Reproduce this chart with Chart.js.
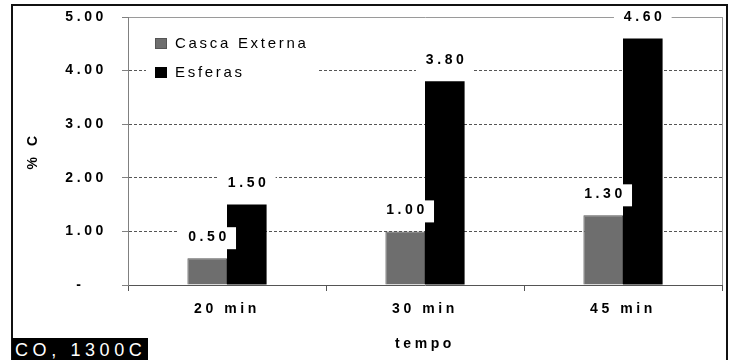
<!DOCTYPE html>
<html><head><meta charset="utf-8">
<script src="https://cdn.jsdelivr.net/npm/chart.js@4.4.1/dist/chart.umd.min.js"></script>
<style>
html,body{margin:0;padding:0;background:#fff;}
#wrap{position:relative;width:730px;height:360px;overflow:hidden;background:#fff;}
#c{position:absolute;left:0;top:0;}
#frame{position:absolute;left:11px;top:4px;width:717px;height:400px;border:2px solid #111;box-sizing:border-box;pointer-events:none;}
#note{position:absolute;left:12px;top:338px;width:136px;height:24px;background:#000;color:#fff;font:18px "Liberation Sans",Arial,sans-serif;letter-spacing:4.6px;line-height:24px;padding-left:3px;box-sizing:border-box;white-space:nowrap;overflow:hidden;}
</style></head><body>
<div id="wrap"><canvas id="c" width="730" height="360"></canvas><div id="frame"></div><div id="note">CO, 1300C</div></div>
<script>
const categories = ['20 min', '30 min', '45 min'];
const seriesNames = ['Casca Externa', 'Esferas'];
const cascaExterna = [0.50, 1.00, 1.30];
const esferas = [1.50, 3.80, 4.60];
const yTickLabels = ['-', '1.00', '2.00', '3.00', '4.00', '5.00'];
const xTitle = 'tempo';
const yTitle = '% C';

const SPACING = 3.6;
const FAMILY = '"Liberation Sans", Arial, sans-serif';

const spacingPlugin = {
  id: 'spacing',
  beforeLayout(chart) { chart.ctx.letterSpacing = SPACING + 'px'; },
  beforeDraw(chart) { chart.ctx.letterSpacing = SPACING + 'px'; }
};

const insideLegend = {
  id: 'insideLegend',
  beforeDatasetsDraw(chart) {
    const ctx = chart.ctx;
    const a = chart.chartArea;
    ctx.save();
    ctx.fillStyle = '#fff';
    ctx.fillRect(a.left + 18, a.top + 11, 172, 58);
    ctx.letterSpacing = '2.7px';
    ctx.font = '15px ' + FAMILY;
    ctx.textAlign = 'left';
    ctx.textBaseline = 'middle';
    chart.data.datasets.forEach((ds, i) => {
      const bx = a.left + 27, by = a.top + 21 + 29 * i;
      ctx.fillStyle = ds.backgroundColor;
      ctx.fillRect(bx, by, 12, 11);
      ctx.strokeStyle = ds.borderColor || ds.backgroundColor;
      ctx.lineWidth = 1;
      ctx.strokeRect(bx + 0.5, by + 0.5, 11, 10);
      ctx.fillStyle = '#000';
      ctx.fillText(ds.label, bx + 20, by + 6);
    });
    ctx.restore();
  }
};

const valueLabels = {
  id: 'valueLabels',
  afterDatasetsDraw(chart) {
    const ctx = chart.ctx;
    ctx.save();
    ctx.letterSpacing = SPACING + 'px';
    ctx.font = 'bold 14px ' + FAMILY;
    ctx.textAlign = 'center';
    ctx.textBaseline = 'middle';
    chart.data.datasets.forEach((ds, di) => {
      const meta = chart.getDatasetMeta(di);
      meta.data.forEach((el, i) => {
        const txt = ds.data[i].toFixed(2);
        const w = ctx.measureText(txt).width + 16;
        const cx = el.x, cy = el.y - 21;
        ctx.fillStyle = '#fff';
        ctx.fillRect(cx - w / 2, cy - 10, w, 22);
        ctx.fillStyle = '#000';
        ctx.fillText(txt, cx + SPACING / 2, cy);
      });
    });
    ctx.restore();
  }
};

const boldFont = {family: FAMILY, size: 14, weight: 'bold'};

new Chart(document.getElementById('c'), {
  type: 'bar',
  data: {
    labels: categories,
    datasets: [
      {label: seriesNames[0], data: cascaExterna, backgroundColor: '#6e6e6e', borderColor: '#555555', borderWidth: 1},
      {label: seriesNames[1], data: esferas, backgroundColor: '#000000', borderColor: '#000000', borderWidth: 0}
    ]
  },
  options: {
    responsive: false,
    animation: false,
    layout: {padding: {left: 0, right: 8, top: 17, bottom: 0}},
    datasets: {bar: {categoryPercentage: 0.4, barPercentage: 1.0}},
    plugins: {legend: {display: false}, tooltip: {enabled: false}},
    scales: {
      x: {
        grid: {
          offset: true,
          drawOnChartArea: true,
          color: c => c.type === 'tick' ? 'rgba(0,0,0,0)' : '#9a9a9a',
          tickColor: '#555555',
          tickLength: 6,
          lineWidth: 1
        },
        border: {color: '#555555', width: 1},
        ticks: {font: boldFont, color: '#000', padding: 10, maxRotation: 0},
        title: {display: true, text: xTitle, font: boldFont, color: '#000', padding: {top: 0, bottom: 7}},
        afterFit(s) { s.height = 75; s.paddingLeft = 0; s.paddingRight = 0; }
      },
      y: {
        min: 0,
        max: 5,
        ticks: {
          stepSize: 1,
          font: boldFont,
          color: '#000',
          padding: 15,
          callback: (v, i) => yTickLabels[i] === '-' ? '-   ' : yTickLabels[i]
        },
        grid: {
          color: c => (c.type === 'tick' && c.tick.value === 5) ? '#9a9a9a' : ((c.type === 'tick' && c.tick.value === 0) ? 'rgba(0,0,0,0)' : '#555555'),
          tickColor: '#808080',
          tickLength: 6,
          tickBorderDash: [],
          lineWidth: 1
        },
        border: {
          color: '#808080',
          width: 1,
          dash: c => (c.type === 'tick' && c.tick.value !== 5) ? [3, 2] : []
        },
        title: {display: true, text: yTitle, font: boldFont, color: '#000', padding: {top: 25, bottom: 0}},
        afterFit(s) { s.width = 128; s.paddingTop = 0; s.paddingBottom = 0; }
      }
    }
  },
  plugins: [spacingPlugin, insideLegend, valueLabels]
});
</script>
</body></html>
